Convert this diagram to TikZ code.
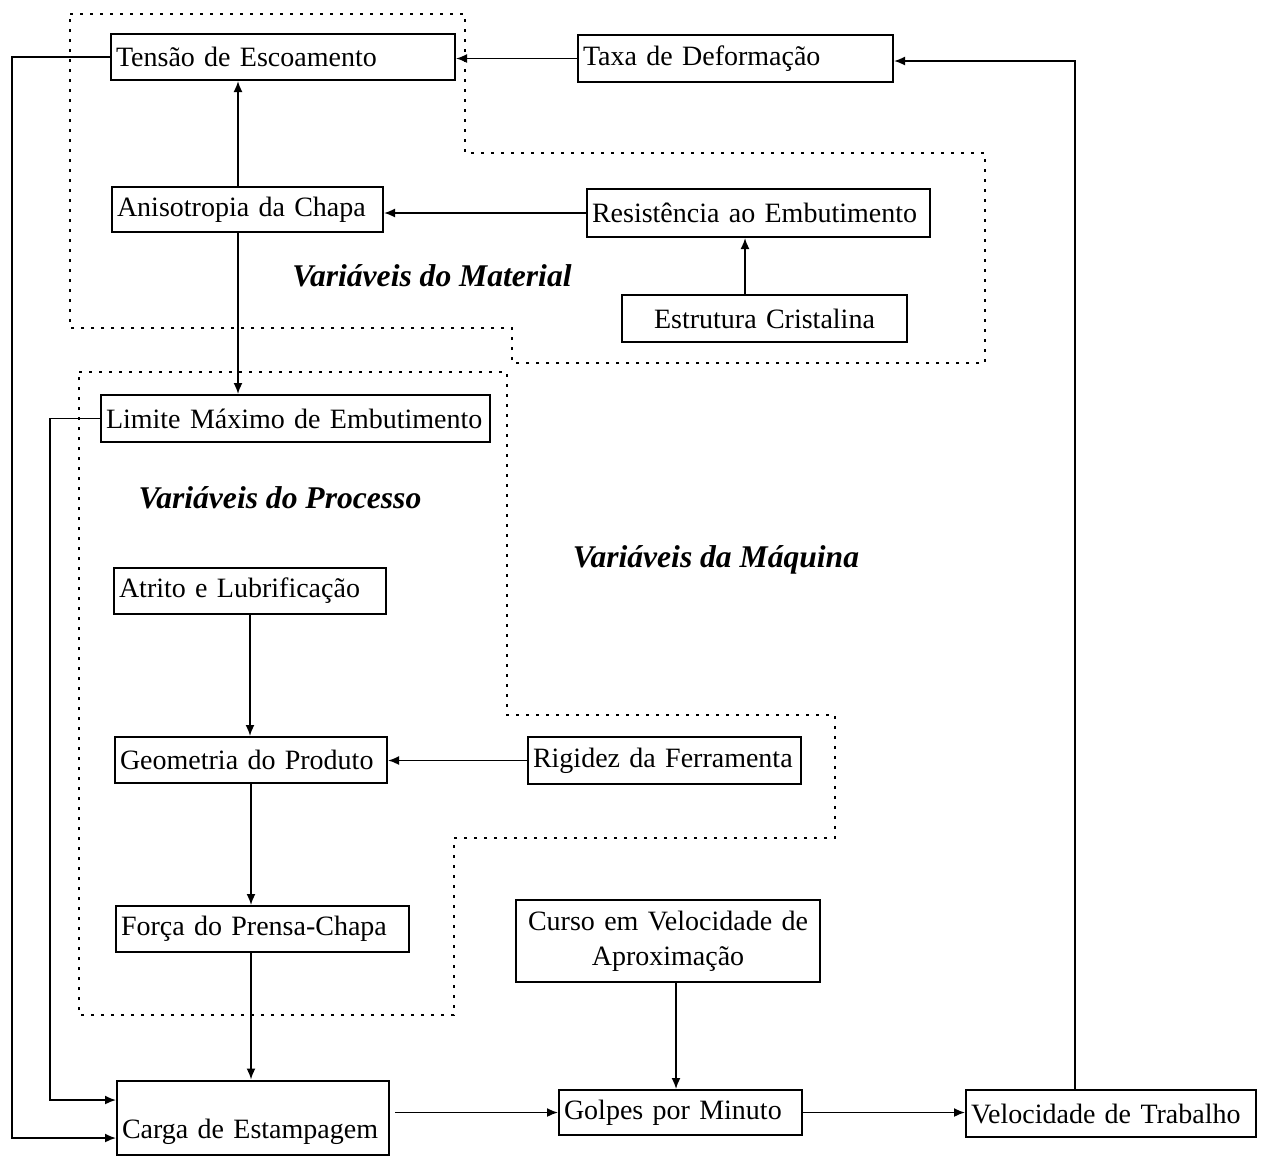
\documentclass[tikz,border=0pt]{standalone}
\usepackage{fontspec}
\setmainfont{Liberation Serif}
\usetikzlibrary{arrows.meta}
\tikzset{
  box/.style={draw, line width=1pt, inner xsep=2.5pt, inner ysep=0pt,
    font=\fontsize{14}{17.5}\selectfont, align=left},
  cbox/.style={box, align=center},
  arr/.style={line width=0.85pt, -{Latex[length=5.5pt,width=4.5pt]}},
  zone/.style={line width=1.4pt, dash pattern=on 1.4pt off 3.6pt},
  lab/.style={font=\fontsize{15.8}{18}\selectfont\bfseries\itshape},
}
\begin{document}
\begin{tikzpicture}[x=0.5pt,y=-0.5pt]
\useasboundingbox (0,0) rectangle (1267,1157);
% zones
\draw[zone] (70,14) -- (465,14) -- (465,153) -- (985,153) -- (985,363) -- (512,363) -- (512,328) -- (70,328) -- cycle;
\draw[zone] (79,372) -- (507,372) -- (507,715) -- (835,715) -- (835,838) -- (454,838) -- (454,1015) -- (79,1015) -- cycle;
% labels
\node[lab] (labmat) at (432,276) {Variáveis do Material};
\node[lab] (labproc) at (280,498) {Variáveis do Processo};
\node[lab] (labmaq) at (716,560) {Variáveis da Máquina};
% boxes
\node[box, text width=167pt, minimum height=23pt] (tensao) at (283,57) {\mbox{Tensão de Escoamento}};
\node[box, text width=152.5pt, minimum height=23.5pt] (taxa) at (735.5,58.5) {\mbox{Taxa de Deformação}};
\node[box, text width=130.5pt, minimum height=22.5pt] (aniso) at (247.5,209.5) {\mbox{Anisotropia da Chapa}};
\node[box, text width=166.5pt, minimum height=24pt] (resist) at (758.5,213) {\mbox{Resistência ao Embutimento}};
\node[cbox, text width=137.5pt, minimum height=23.5pt] (estrut) at (764.5,318.5) {Estrutura Cristalina};
\node[box, text width=189.5pt, minimum height=23.5pt] (limite) at (295.5,418.5) {\mbox{Limite Máximo de Embutimento}};
\node[box, text width=131pt, minimum height=23pt] (atrito) at (250,591) {\mbox{Atrito e Lubrificação}};
\node[box, text width=131pt, minimum height=23pt] (geom) at (251,760) {\mbox{Geometria do Produto}};
\node[box, text width=141.5pt, minimum height=23pt] (forca) at (262.5,929) {\mbox{Força do Prensa-Chapa}};
\node[box, text width=131pt, text height=29pt, text depth=8pt] (carga) at (253,1117.5) {\mbox{Carga de Estampagem}};
\node[box, text width=131.5pt, minimum height=23.5pt] (rigidez) at (664.5,760.5) {\mbox{Rigidez da Ferramenta}};
\node[cbox, text width=147pt, minimum height=41pt] (curso) at (668,941) {Curso em Velocidade de\\Aproximação};
\node[box, text width=116.5pt, minimum height=22.5pt] (golpes) at (680.5,1112.5) {\mbox{Golpes por Minuto}};
\node[box, text width=140pt, minimum height=23.5pt] (veloc) at (1111,1113.5) {\mbox{Velocidade de Trabalho}};
% helper coordinates
\coordinate (xa) at (238,0);
\coordinate (xe) at (745,0);
\coordinate (xc) at (676,0);
\coordinate (lA) at (12,1138);
\coordinate (lB) at (50,1100);
\coordinate (rA) at (1075,61);
% connectors
\draw[arr] (taxa.west) -- (taxa.west -| tensao.east);
\draw[arr] (veloc.north -| rA) -- (rA) -- (rA -| taxa.east);
\draw[arr] (aniso.north -| xa) -- (tensao.south -| xa);
\draw[arr] (resist.west) -- (resist.west -| aniso.east);
\draw[arr] (estrut.north -| xe) -- (resist.south -| xe);
\draw[arr] (aniso.south -| xa) -- (limite.north -| xa);
\draw[arr] (atrito.south) -- (atrito.south |- geom.north);
\draw[arr] (rigidez.west) -- (rigidez.west -| geom.east);
\draw[arr] (geom.south) -- (geom.south |- forca.north);
\draw[arr] (forca.south -| geom.south) -- (carga.north -| geom.south);
\draw[arr] (tensao.west) -| (lA) -- (lA -| carga.west);
\draw[arr] (limite.west) -| (lB) -- (lB -| carga.west);
\draw[arr] ([xshift=2.5pt]carga.east |- golpes.west) -- (golpes.west);
\draw[arr] (curso.south -| xc) -- (golpes.north -| xc);
\draw[arr] (golpes.east) -- (golpes.east -| veloc.west);
\end{tikzpicture}
\end{document}
